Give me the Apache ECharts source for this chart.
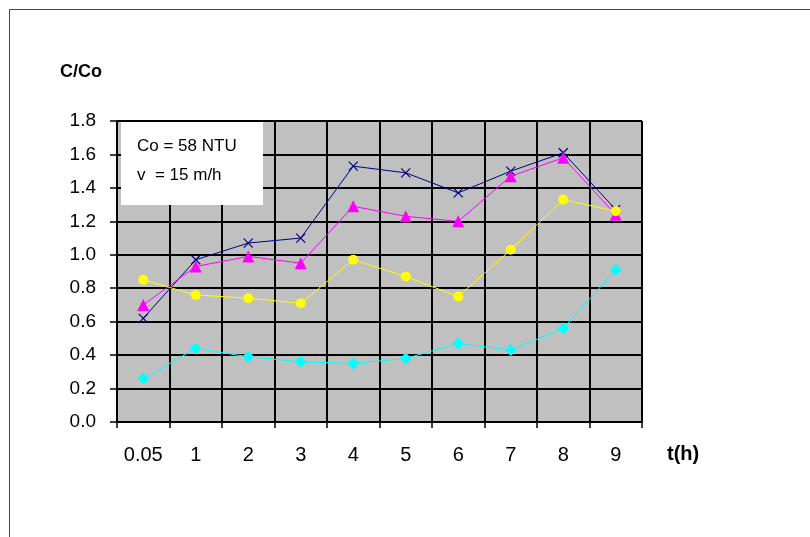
<!DOCTYPE html>
<html><head><meta charset="utf-8">
<script src="https://cdn.jsdelivr.net/npm/echarts@6/dist/echarts.min.js"></script>
<style>html,body{margin:0;padding:0;background:#fff}#c{width:810px;height:537px}</style>
</head><body><div id="c"></div>
<script>
const categories = ['0.05','1','2','3','4','5','6','7','8','9'];
const navySeries = [0.62,0.97,1.07,1.10,1.53,1.49,1.37,1.50,1.61,1.27];
const magentaSeries = [0.70,0.93,0.99,0.95,1.29,1.23,1.20,1.47,1.58,1.24];
const yellowSeries = [0.85,0.76,0.74,0.71,0.97,0.87,0.75,1.03,1.33,1.26];
const cyanSeries = [0.26,0.44,0.39,0.36,0.35,0.38,0.47,0.43,0.56,0.91];
const yTicks = {min:0, max:1.8, interval:0.2};

const font = 'Liberation Sans, Arial, sans-serif';
const chart = echarts.init(document.getElementById('c'));
chart.setOption({
  animation:false,
  backgroundColor:'#fff',
  grid:{left:117, top:121, right:168, bottom:115, show:true, backgroundColor:'#c0c0c0', borderColor:'#a8a8a8', borderWidth:1},
  xAxis:{type:'category', data:categories, boundaryGap:true,
    axisLine:{lineStyle:{color:'#000', width:2}},
    axisTick:{show:true, length:6, lineStyle:{color:'#000', width:1.5}},
    axisLabel:{color:'#000', fontSize:20, fontFamily:font, margin:23},
    splitLine:{show:true, lineStyle:{color:'#000', width:2}}},
  yAxis:{type:'value', min:yTicks.min, max:yTicks.max, interval:yTicks.interval,
    axisLine:{show:true, lineStyle:{color:'#000', width:2}},
    axisTick:{show:true, length:7, lineStyle:{color:'#000', width:1.5}},
    axisLabel:{color:'#000', fontSize:19, fontFamily:font, margin:21, formatter:v=>v.toFixed(1)},
    splitLine:{show:true, lineStyle:{color:'#000', width:2}}},
  graphic:[
    {type:'rect', left:7, top:7, shape:{width:820, height:560}, style:{fill:'none', stroke:'#444', lineWidth:1}, z:0},
    {type:'rect', left:121, top:122, shape:{width:142, height:83}, style:{fill:'#fff', stroke:'none'}, z:50},
    {type:'text', left:137, top:138, style:{text:'Co = 58 NTU', font:'17px '+font, fill:'#000'}, z:51},
    {type:'text', left:137, top:167, style:{text:'v  = 15 m/h', font:'17px '+font, fill:'#000'}, z:51},
    {type:'text', left:60, top:63, style:{text:'C/Co', font:'bold 18px '+font, fill:'#000'}, z:51},
    {type:'text', left:667, top:444, style:{text:'t(h)', font:'bold 20px '+font, fill:'#000'}, z:51}
  ],
  series:[
    {type:'line', data:navySeries, symbol:'path://M0,0L10,10M10,0L0,10', symbolSize:9,
      lineStyle:{color:'#000080', width:1}, itemStyle:{color:'rgba(0,0,0,0)', borderColor:'#000080', borderWidth:1.2}, z:5},
    {type:'line', data:magentaSeries, symbol:'triangle', symbolSize:12,
      lineStyle:{color:'#ff00ff', width:1}, itemStyle:{color:'#ff00ff'}, z:6},
    {type:'line', data:yellowSeries, symbol:'circle', symbolSize:10,
      lineStyle:{color:'#ffff00', width:1}, itemStyle:{color:'#ffff00'}, z:7},
    {type:'line', data:cyanSeries, symbol:'diamond', symbolSize:12,
      lineStyle:{color:'#00ffff', width:1}, itemStyle:{color:'#00ffff'}, z:8}
  ]
});
</script></body></html>
